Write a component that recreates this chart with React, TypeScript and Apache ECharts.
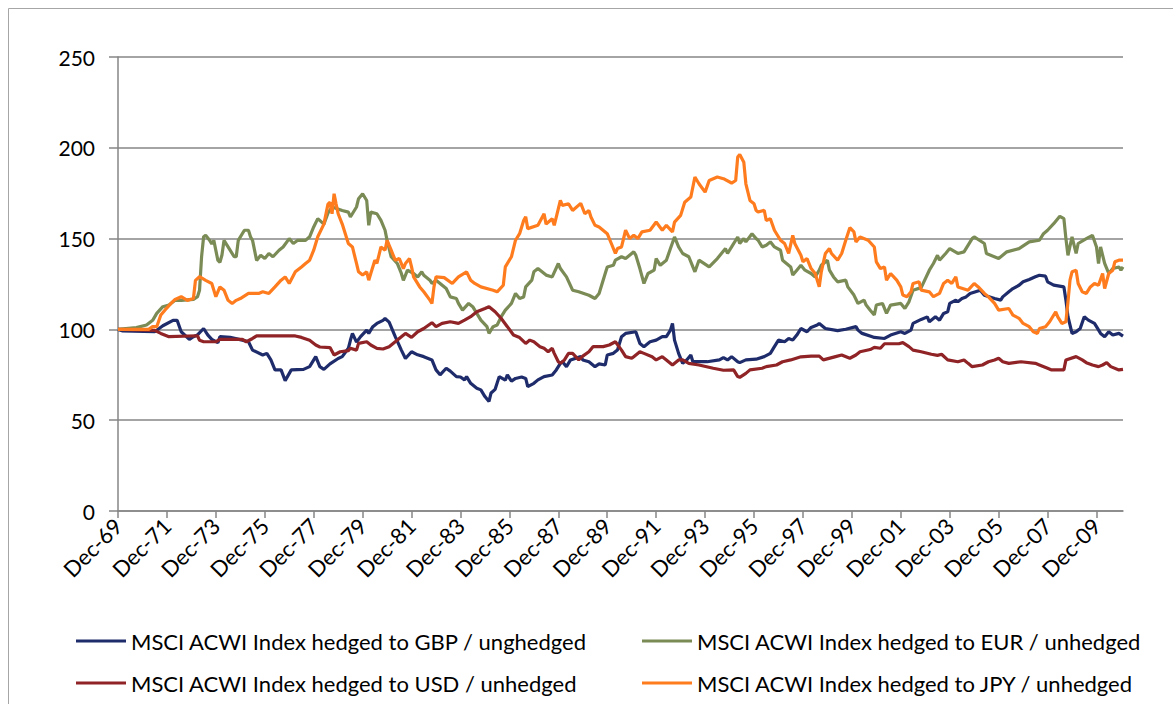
import React, { useEffect, useRef } from "react";
import * as echarts from "echarts";

const X_MAX = 493;
const xTickLabels = [
  "Dec-69", "Dec-71", "Dec-73", "Dec-75", "Dec-77", "Dec-79", "Dec-81",
  "Dec-83", "Dec-85", "Dec-87", "Dec-89", "Dec-91", "Dec-93", "Dec-95",
  "Dec-97", "Dec-99", "Dec-01", "Dec-03", "Dec-05", "Dec-07", "Dec-09",
];
const yTicks = [0, 50, 100, 150, 200, 250];

const seriesNames = [
  "MSCI ACWI Index hedged to GBP / unghedged",
  "MSCI ACWI Index hedged to EUR / unhedged",
  "MSCI ACWI Index hedged to USD / unhedged",
  "MSCI ACWI Index hedged to JPY / unhedged",
];
const seriesColors = ["#1F2C6B", "#7B8B55", "#8F2326", "#FF7C1E"];

// [month index from Dec-69, value]
const gbpData = [
  [0,100],[2,99.2],[18,98.7],[22,102],[27,105],[29,105],[31,98.7],[35,94.5],[37,96],[39,97],[42,100.5],[44,97],[46,94.5],[49,92.7],[50,96],[55,95.6],[61,94.1],[64,93.2],[66,88.6],[71,85.9],[73,86.8],[75,83.2],[77,77.7],[80,77.7],[82,71.8],[85,77.7],[91,78],[94,79.5],[97,85],[99,79.5],[101,78],[104,81],[108,84],[110,85],[113,89.6],[114,94],[115,97.8],[117,93],[119,96],[122,99.6],[123,97.8],[125,101.5],[127,103.3],[130,105],[131,106],[133,104],[136,96],[139,88.6],[141,84],[144,87.7],[147,86],[150,85],[154,83.2],[156,77.7],[158,75],[161,78.6],[163,77],[166,74],[168,73.8],[170,72.2],[171,74],[173,70.3],[176,67.6],[178,66.7],[180,63],[182,60.3],[183,65],[185,67],[187,74],[190,72],[191,75],[193,71.5],[195,73],[198,73.8],[200,73],[201,68.5],[204,70.3],[206,72.2],[209,74],[213,74.9],[215,77.7],[217,81.3],[218,82.2],[220,79.5],[222,83.2],[227,85],[228,83.2],[231,82.2],[234,79.5],[236,81],[239,80.4],[240,85.9],[243,86.8],[245,88.6],[247,96],[249,97.8],[254,98.7],[256,92.3],[258,90.5],[261,93.2],[264,94.1],[267,96],[269,96],[271,99.6],[272,103.3],[273,94.1],[275,86.8],[277,81.3],[279,83.2],[281,85.9],[282,82.2],[289,82.2],[295,83.2],[297,84.5],[299,83.2],[301,85],[304,82.2],[305,81.7],[308,83.2],[313,83.6],[317,85],[320,86.8],[322,90.5],[324,94.1],[327,93.2],[329,95],[331,94.1],[333,96.9],[335,100.5],[338,98.7],[340,101.1],[343,102.4],[344,103.3],[347,100.5],[353,99.3],[357,100.1],[362,101.5],[363,99.6],[365,97.8],[370,96],[371,95.6],[376,95],[379,96.9],[384,98.7],[386,97.8],[389,99.6],[390,103.3],[394,105.5],[397,106.9],[398,104.2],[401,106.9],[403,105.1],[405,108.8],[407,109.7],[408,114.3],[411,116.1],[412,115.2],[414,117],[416,117.9],[418,119.8],[423,121.6],[425,118.8],[430,117],[433,116.1],[434,117.9],[437,120.7],[439,122.5],[442,124.3],[444,126.2],[447,127.5],[450,129],[452,129.8],[455,129.3],[456,126.2],[459,124.4],[464,123.4],[465,116.1],[466,107],[468,97.8],[470,98.7],[472,100.5],[474,107],[476,105.1],[479,103.3],[480,101.5],[482,97.8],[484,96],[486,98.7],[488,96.9],[491,97.8],[493,96.3],
];
const eurData = [
  [0,100],[9,101],[14,102.4],[17,105],[19,108.8],[22,112.5],[25,113.4],[28,116],[31,116],[37,116.5],[39,118],[40,121.6],[41,140],[42,151],[43,151.8],[45,149],[46,147],[47,149],[49,138],[50,137],[51,141],[52,149],[54,145.4],[57,140],[58,140],[59,149],[62,154.6],[64,154.6],[65,151],[66,149],[68,138],[70,140.8],[72,139],[74,141.8],[76,140],[79,143.6],[81,145.4],[84,150],[86,147.3],[88,149],[92,149],[94,151],[96,156.4],[98,161],[101,158],[103,164],[105,167.4],[110,165.5],[113,164.6],[114,161.9],[117,167.4],[118,172],[120,174.7],[122,171],[123,157.3],[124,164.6],[127,163.7],[129,160],[131,154.6],[132,149],[134,140],[137,136.3],[139,130.8],[140,127],[142,132.6],[145,130.8],[147,128.9],[149,131.7],[150,129.8],[153,127.1],[154,125.3],[156,127.1],[158,125.3],[161,122.5],[163,117.9],[166,117],[167,114.3],[169,110.6],[172,114.3],[174,112.5],[176,108.8],[178,105.1],[181,101.5],[182,97.8],[184,101.5],[186,102.4],[188,107],[190,110.6],[193,114.3],[195,119.8],[197,117],[199,117.9],[200,123.4],[203,127.1],[204,131.7],[206,133.5],[208,131.7],[210,129.9],[213,128.9],[216,136.3],[217,133.5],[220,128.9],[223,121.6],[226,120.7],[231,118.8],[234,117],[236,119.8],[239,130.8],[240,134.4],[243,135.3],[244,138.1],[247,140],[249,139],[253,142.7],[254,140.9],[256,133.5],[258,125.3],[260,130.8],[263,132.6],[264,139],[266,135.3],[269,138.1],[271,144.5],[273,150.9],[275,145.4],[277,141.8],[280,140],[282,134.4],[283,131.7],[285,138.1],[290,134.4],[294,139],[296,141.8],[298,144.5],[299,141.8],[301,145.4],[304,150.9],[305,147.3],[307,150],[308,148.2],[311,152.7],[313,150],[314,149.1],[316,145.4],[318,146.3],[320,148.2],[322,145.4],[325,143.6],[326,138.1],[330,134.4],[331,129.9],[333,132.6],[335,135.3],[337,132.6],[340,130.8],[342,128.9],[344,132.6],[345,135.3],[348,138.1],[349,132.6],[351,128.9],[353,126.2],[357,127.1],[358,123.4],[361,118.9],[363,114.3],[366,116.1],[367,113.4],[369,110.6],[371,107.9],[372,113.4],[375,114.3],[377,108.8],[379,113.4],[384,114.3],[386,111.5],[388,115.2],[390,121.6],[394,123],[398,132.6],[400,136.3],[402,140.8],[403,138.1],[406,141.8],[408,144.5],[412,141.8],[415,142.7],[419,150],[420,150.9],[425,147.3],[426,141.8],[432,139],[436,142.7],[442,144.5],[447,148.2],[452,149.1],[454,152.7],[456,154.6],[459,158.2],[462,162.3],[464,161],[465,150],[466,140.8],[468,150.9],[470,141.8],[471,147.3],[475,150],[478,151.8],[480,145.4],[481,136.3],[482,145.4],[484,136.3],[486,130.8],[488,133.5],[491,134.4],[492,132.6],[493,134.4],
];
const usdData = [
  [0,100],[18,99.5],[21,97.8],[25,96],[39,96.5],[40,94],[42,93.2],[48,93.2],[50,94.5],[61,94.5],[63,93.2],[66,95],[68,96.4],[87,96.4],[90,95.6],[94,94],[97,91.4],[99,90.3],[104,90],[106,85.9],[109,87.7],[113,88.3],[114,89.6],[117,88.6],[118,92.3],[122,93.2],[124,91.4],[127,89.6],[130,89.2],[133,90.5],[136,93.2],[139,96],[141,97.8],[144,95.6],[147,98.7],[150,100.5],[154,103.7],[156,101.5],[159,103.3],[163,104.2],[167,103.3],[170,105.1],[173,107],[176,109.7],[180,111.5],[182,112.5],[185,109.7],[188,106],[191,101.5],[194,96.9],[197,95.5],[200,92.3],[202,94.1],[204,93.2],[207,90.5],[209,89.6],[211,87.7],[213,89.6],[214,86.8],[216,82.2],[217,81.3],[219,83.2],[221,86.8],[223,86.8],[226,83.2],[228,85.3],[231,87.7],[233,90.5],[238,90.5],[241,91.4],[244,93.2],[247,88.6],[249,85],[252,84.1],[253,85],[256,87.7],[258,86.8],[262,85],[264,83.2],[267,85],[269,83.2],[272,80.4],[275,83.2],[277,83.2],[280,81.3],[285,80.4],[292,78.6],[297,77.5],[302,77.7],[304,74],[305,73.6],[308,75.8],[310,77.7],[316,78.6],[318,79.5],[323,80.4],[326,82.2],[330,83.2],[335,84.9],[340,85.3],[344,85.3],[346,83.2],[352,85],[355,85.9],[359,84.1],[362,85.9],[364,87.7],[369,88.9],[371,90.1],[374,89.6],[376,92.1],[383,92.1],[385,92.7],[388,90.5],[390,88.6],[394,87.7],[399,86.3],[402,85.7],[404,86.3],[407,83.2],[412,82.2],[415,83.2],[417,81.3],[419,79.5],[424,80.4],[427,82.2],[430,83.2],[432,84.1],[434,82.2],[437,81.3],[443,82.2],[450,81.3],[452,80.4],[456,78.6],[458,77.7],[464,77.7],[465,83.2],[470,85],[473,83.2],[475,81.7],[478,80.4],[481,79.5],[483,80.4],[485,81.7],[487,79.5],[491,77.7],[493,78],
];
const jpyData = [
  [0,100],[15,100],[17,101.5],[19,101.5],[21,107.9],[23,110.6],[26,114.3],[28,116.5],[31,118],[34,116],[37,117],[38,127],[40,129],[43,127],[46,125.3],[48,118],[50,123.4],[52,121.6],[54,116],[56,114.3],[58,116],[60,117],[64,119.8],[69,119.8],[71,120.7],[74,119.8],[77,123.4],[80,127.1],[82,128.9],[84,125.3],[87,131.7],[90,134.4],[92,136.3],[94,138.1],[96,143.6],[98,151],[101,158],[103,169],[104,170],[105,163.7],[106,174.7],[107,169],[108,163.7],[110,158],[113,147.3],[115,145.4],[117,136.3],[118,131.7],[120,129.9],[122,131.7],[123,127.1],[124,130.8],[126,138.1],[127,136.3],[129,145.4],[131,143.6],[132,149.1],[134,143.6],[136,138.1],[138,139],[140,133.5],[141,136.3],[143,139],[144,134.4],[145,128.9],[148,123.4],[150,120.7],[153,116.1],[154,114.3],[155,123.4],[156,128.9],[160,128.5],[164,125.3],[167,128.9],[171,131.7],[173,127.1],[175,125.3],[178,123.4],[184,121.6],[186,120.7],[189,124.3],[190,134.4],[193,140],[195,149.1],[197,152.7],[199,160],[200,162],[201,155.5],[206,157.3],[209,163.7],[210,158],[213,160.9],[214,157.3],[217,171],[218,168.3],[221,169.2],[223,165.5],[227,169.4],[229,163.7],[231,165.5],[232,161.9],[234,157.3],[236,156.4],[240,152.7],[242,147.3],[244,141.8],[245,144.5],[247,145.4],[249,154.6],[251,150],[253,151.8],[255,150],[257,153.7],[261,154.6],[264,159.1],[267,154.6],[269,157.3],[272,153.7],[273,159.1],[276,162.8],[278,170],[281,172.9],[283,183.9],[285,180.2],[288,175.6],[290,182],[294,183.9],[297,183],[301,180.6],[303,182],[304,194.9],[305,196.3],[307,192],[308,180.2],[310,171],[312,169.2],[313,165.6],[314,164.6],[317,165.6],[318,160],[320,160.9],[322,154.6],[325,149.1],[327,147.3],[329,141.8],[331,151.8],[332,147.3],[335,140.8],[336,137.2],[338,139],[340,133.5],[342,130.8],[344,123.4],[345,131.7],[347,141.8],[349,144.5],[350,141.8],[353,138.1],[355,141.8],[357,149.1],[359,156],[361,153.7],[362,148.2],[364,150.9],[368,149.1],[371,145.4],[372,137.2],[374,133.5],[376,134.4],[377,127.1],[379,130.8],[382,127.1],[384,123.4],[385,118.9],[387,118],[389,120.7],[390,125.3],[393,126.2],[394,121.6],[398,120.7],[400,118],[403,119.8],[405,125.3],[407,127.1],[409,125.3],[411,128.9],[412,123.4],[417,121.6],[420,125.3],[422,123.4],[425,119.8],[427,117.9],[430,114.3],[432,110.6],[437,111.5],[439,107.9],[442,106.1],[444,103.3],[447,101.5],[449,98.7],[451,97.8],[452,100.5],[455,101.5],[457,104.2],[460,109.7],[461,106.9],[463,103.3],[465,104.2],[466,115.2],[467,127.1],[468,131.7],[470,132.6],[471,125.3],[473,120.7],[475,119.8],[477,123.4],[479,125.3],[481,124.3],[483,130.8],[484,122.5],[486,130.8],[488,132.6],[489,137.2],[491,138.1],[493,138.1],
];

const allData = [gbpData, eurData, usdData, jpyData];
const FONT = "Lato, 'Open Sans', sans-serif";
const AXIS_GRAY = "#868686";

export default function App() {
  const ref = useRef<HTMLDivElement>(null);

  useEffect(() => {
    if (!ref.current) return;
    const chart = echarts.init(ref.current, null, { renderer: "svg" });
    const tickValues = xTickLabels.map((_, i) => i * 24);
    const legendText = { fontFamily: FONT, fontSize: 22, color: "#000", lineHeight: 22 };
    const legendPos = [
      { left: 71, top: 625 },
      { left: 637, top: 625 },
      { left: 71, top: 667 },
      { left: 637, top: 667 },
    ];
    chart.setOption({
      animation: false,
      backgroundColor: "#fff",
      textStyle: { fontFamily: FONT },
      graphic: [
        {
          type: "rect",
          shape: { x: 8.5, y: 8.5, width: 1200, height: 800 },
          style: { fill: "none", stroke: "#a6a6a6", lineWidth: 1 },
          silent: true,
          z: -1,
        },
      ],
      grid: { left: 118, top: 57, width: 1005, height: 454, containLabel: false },
      xAxis: {
        type: "value",
        min: 0,
        max: X_MAX,
        splitLine: { show: false },
        axisLine: { show: true, onZero: false, lineStyle: { color: AXIS_GRAY, width: 1.5 } },
        axisTick: {
          show: true,
          customValues: tickValues,
          length: 7,
          lineStyle: { color: AXIS_GRAY, width: 1.5 },
        },
        axisLabel: {
          customValues: tickValues,
          rotate: 45,
          margin: 11,
          fontSize: 22,
          fontFamily: FONT,
          color: "#000",
          formatter: (v: number) => xTickLabels[Math.round(v / 24)] ?? "",
        },
      },
      yAxis: {
        type: "value",
        min: 0,
        max: 250,
        interval: 50,
        axisLine: { show: true, lineStyle: { color: AXIS_GRAY, width: 1.5 } },
        axisTick: { show: true, length: 9, lineStyle: { color: AXIS_GRAY, width: 1.5 } },
        splitLine: { show: true, lineStyle: { color: AXIS_GRAY, width: 1.5 } },
        axisLabel: {
          margin: 23,
          fontSize: 21,
          fontFamily: FONT,
          color: "#000",
          formatter: (v: number) => (yTicks.includes(v) ? String(v) : ""),
        },
      },
      legend: seriesNames.map((name, i) => ({
        data: [name],
        left: legendPos[i].left,
        top: legendPos[i].top,
        icon: "rect",
        itemWidth: 50,
        itemHeight: 3,
        textStyle: legendText,
      })),
      series: allData.map((d, i) => ({
        name: seriesNames[i],
        type: "line",
        data: d,
        showSymbol: false,
        symbol: "none",
        color: seriesColors[i],
        itemStyle: { color: seriesColors[i] },
        lineStyle: { color: seriesColors[i], width: 3.2 },
        emphasis: { disabled: true },
      })),
    });
    return () => chart.dispose();
  }, []);

  return (
    <div
      ref={ref}
      style={{ position: "fixed", left: 0, top: 0, width: 1173, height: 704, background: "#fff" }}
    />
  );
}
